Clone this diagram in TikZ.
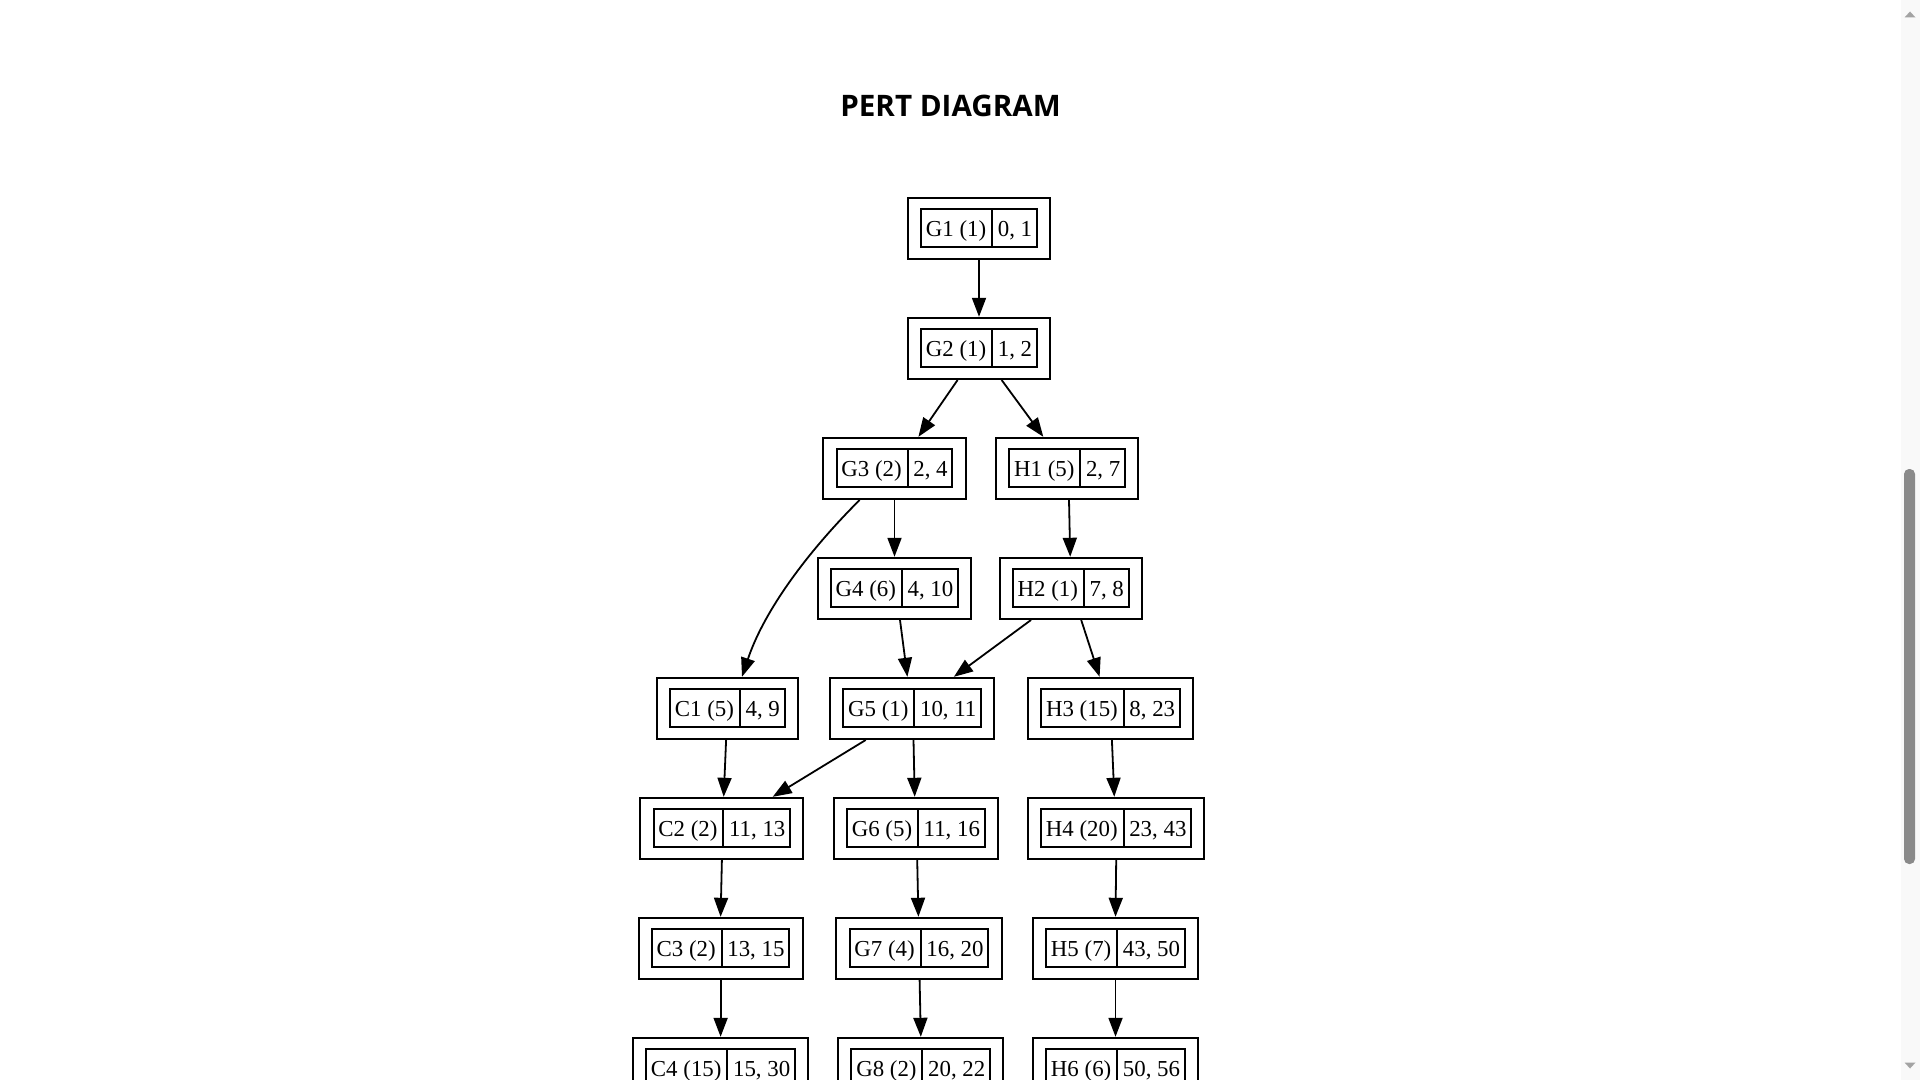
\documentclass[tikz,border=0pt]{standalone}
\usepackage{fontspec}
\setmainfont{Liberation Serif}
\newfontfamily\titlefont{Open Sans}
\usetikzlibrary{shapes.multipart,fit,arrows.meta}
\definecolor{thumbgray}{HTML}{8A8A8A}
\definecolor{trackgray}{HTML}{F9F9F9}
\definecolor{arrgray}{HTML}{A3A3A3}
\tikzset{
  pinner/.style={rectangle split, rectangle split horizontal, rectangle split parts=2,
    draw, line width=1pt, inner xsep=2.4pt, inner ysep=0pt,
    font=\fontsize{11.43}{13}\selectfont},
  pouter/.style={draw, line width=1pt, inner xsep=6.1pt, inner ysep=5.3pt},
  pedge/.style={draw, line width=0.9pt, -{Triangle[length=9.5pt,width=7pt]}},
}
\newcommand\pertbox[5]{%
  \node[pinner] (#1i) at (#2,#3) {\rule[-5.3pt]{0pt}{19pt}#4\nodepart{two}\rule[-5.3pt]{0pt}{19pt}#5};
  \node[pouter, fit=(#1i)] (#1) {};
}
\begin{document}
\begin{tikzpicture}[x=0.5pt,y=-0.5pt]
\useasboundingbox (0,0) rectangle (1920,1080);
\fill[white] (0,0) rectangle (1920,1080);
\clip (0,0) rectangle (1920,1080);
% scrollbar
\fill[trackgray] (1901,0) rectangle (1920,1080);
\fill[thumbgray, rounded corners=2.5pt] (1904,469) rectangle (1915,864);
\fill[arrgray] (1904.5,17.5) -- (1915.5,17.5) -- (1910,11.5) -- cycle;
\fill[arrgray] (1904.5,1062.5) -- (1915.5,1062.5) -- (1910,1068.5) -- cycle;
% title
\node[font=\titlefont\bfseries\fontsize{14.8}{18}\selectfont] (title) at (950.5,106) {PERT DIAGRAM};
% nodes
\pertbox{G1}{979}{228.4}{G1 (1)}{0, 1}
\pertbox{G2}{979}{348.4}{G2 (1)}{1, 2}
\pertbox{G3}{894.5}{468.4}{G3 (2)}{2, 4}
\pertbox{H1}{1067.2}{468.4}{H1 (5)}{2, 7}
\pertbox{G4}{894.5}{588.4}{G4 (6)}{4, 10}
\pertbox{H2}{1070.8}{588.4}{H2 (1)}{7, 8}
\pertbox{C1}{727.4}{708.4}{C1 (5)}{4, 9}
\pertbox{G5}{912.3}{708.4}{G5 (1)}{10, 11}
\pertbox{H3}{1110.6}{708.4}{H3 (15)}{8, 23}
\pertbox{C2}{721.9}{828.4}{C2 (2)}{11, 13}
\pertbox{G6}{915.9}{828.4}{G6 (5)}{11, 16}
\pertbox{H4}{1116.2}{828.4}{H4 (20)}{23, 43}
\pertbox{C3}{720.6}{948.4}{C3 (2)}{13, 15}
\pertbox{G7}{919}{948.4}{G7 (4)}{16, 20}
\pertbox{H5}{1115.5}{948.4}{H5 (7)}{43, 50}
\pertbox{C4}{720.6}{1068.4}{C4 (15)}{15, 30}
\pertbox{G8}{920.8}{1068.4}{G8 (2)}{20, 22}
\pertbox{H6}{1115.5}{1068.4}{H6 (6)}{50, 56}
% edges
\draw[pedge] (G1.south) -- (G2.north);
\draw[pedge] ([xshift=-10.7pt]G2.south) -- ([xshift=11.95pt]G3.north);
\draw[pedge] ([xshift=11.3pt]G2.south) -- ([xshift=-11.95pt]H1.north);
\draw[pedge] (G3.south) -- (G4.north);
\draw[pedge] ([xshift=-17.45pt]G3.south) .. controls +(-60,60) and +(20,-60) .. ([xshift=7.3pt]C1.north);
\draw[pedge] ([xshift=0.9pt]H1.south) -- ([xshift=-0.3pt]H2.north);
\draw[pedge] ([xshift=2.75pt]G4.south) -- ([xshift=-2.45pt]G5.north);
\draw[pedge] ([xshift=-19.9pt]H2.south) -- ([xshift=20.8pt]G5.north);
\draw[pedge] ([xshift=5.2pt]H2.south) -- ([xshift=-5.5pt]H3.north);
\draw[pedge] ([xshift=-0.65pt]C1.south) -- ([xshift=0.9pt]C2.north);
\draw[pedge] ([xshift=-23.3pt]G5.south) -- ([xshift=25.4pt]C2.north);
\draw[pedge] ([xshift=0.6pt]G5.south) -- ([xshift=-0.6pt]G6.north);
\draw[pedge] ([xshift=0.65pt]H3.south) -- ([xshift=-0.95pt]H4.north);
\draw[pedge] (C2.south) -- (C3.north);
\draw[pedge] ([xshift=0.65pt]G6.south) -- ([xshift=-0.3pt]G7.north);
\draw[pedge] (H4.south) -- (H5.north);
\draw[pedge] (C3.south) -- (C4.north);
\draw[pedge] ([xshift=0.3pt]G7.south) -- (G8.north);
\draw[pedge] (H5.south) -- (H6.north);
\end{tikzpicture}
\end{document}
